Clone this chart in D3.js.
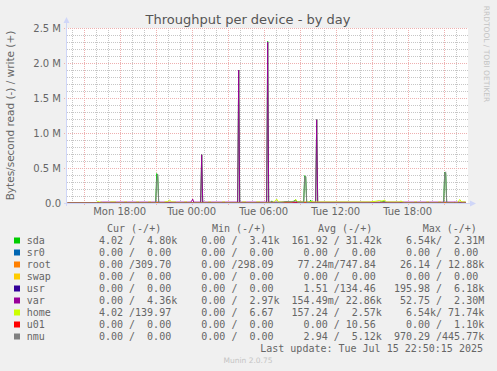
<!DOCTYPE html>
<html><head><meta charset="utf-8">
<script src="https://cdn.jsdelivr.net/npm/d3@7"></script>
<style>
html,body{margin:0;padding:0;background:#F0F0F0;}
svg{display:block;}
text{font-family:"DejaVu Sans",sans-serif;}
.mono{font-family:"DejaVu Sans Mono",monospace;font-size:10px;white-space:pre;}
</style></head>
<body>
<svg id="c" width="497" height="371"></svg>
<script>
// ---------- data ----------
const title = "Throughput per device - by day";
const yLabel = "Bytes/second read (-) / write (+)";
const yTicks = [0, 500000, 1000000, 1500000, 2000000, 2500000];
const yTickLabels = ["0.0", "0.5 M", "1.0 M", "1.5 M", "2.0 M", "2.5 M"];
const xTickTimes = ["2025-07-14 18:00", "2025-07-15 00:00", "2025-07-15 06:00", "2025-07-15 12:00", "2025-07-15 18:00"];
const xTickLabels = ["Mon 18:00", "Tue 00:00", "Tue 06:00", "Tue 12:00", "Tue 18:00"];
const devices = ["sda", "sr0", "root", "swap", "usr", "var", "home", "u01", "nmu"];
const colors = ["#00CC00", "#0066B3", "#FF8000", "#FFCC00", "#330099", "#990099", "#CCFF00", "#FF0000", "#808080"];
const curCol = ["  4.02 /  4.80k","  0.00 /  0.00 ","  0.00 /309.70 ","  0.00 /  0.00 ","  0.00 /  0.00 ","  0.00 /  4.36k","  4.02 /139.97 ","  0.00 /  0.00 ","  0.00 /  0.00 "];
const minCol = ["  0.00 /  3.41k","  0.00 /  0.00 ","  0.00 /298.09 ","  0.00 /  0.00 ","  0.00 /  0.00 ","  0.00 /  2.97k","  0.00 /  6.67 ","  0.00 /  0.00 ","  0.00 /  0.00 "];
const avgCol = ["161.92 / 31.42k","  0.00 /  0.00 "," 77.24m/747.84 ","  0.00 /  0.00 ","  1.51 /134.46 ","154.49m/ 22.86k","157.24 /  2.57k","  0.00 / 10.56 ","  2.94 /  5.12k"];
const maxCol = ["  6.54k/  2.31M","  0.00 /  0.00 "," 26.14 / 12.88k","  0.00 /  0.00 ","195.98 /  6.18k"," 52.75 /  2.30M","  6.54k/ 71.74k","  0.00 /  1.10k","970.29 /445.77k"];
const lastUpdate = "Last update: Tue Jul 15 22:50:15 2025";

// write (+) series, [time, bytes/s]
const sdaW = [
["2025-07-14 13:40",1000],["2025-07-14 16:20",1000],["2025-07-14 16:25",5000],["2025-07-14 21:00",5000],
["2025-07-14 21:05",420000],["2025-07-14 21:10",400000],["2025-07-14 21:15",5000],["2025-07-15 00:45",5000],
["2025-07-15 00:50",690000],["2025-07-15 00:55",5000],["2025-07-15 03:50",5000],["2025-07-15 03:55",1900000],
["2025-07-15 04:00",5000],["2025-07-15 06:15",5000],["2025-07-15 06:20",2310000],["2025-07-15 06:25",5000],
["2025-07-15 06:35",8000],["2025-07-15 06:40",30000],["2025-07-15 06:45",8000],["2025-07-15 07:40",10000],
["2025-07-15 07:50",20000],["2025-07-15 08:10",15000],["2025-07-15 08:30",25000],["2025-07-15 08:40",45000],
["2025-07-15 08:45",15000],["2025-07-15 09:20",10000],["2025-07-15 09:25",390000],["2025-07-15 09:30",370000],
["2025-07-15 09:35",8000],["2025-07-15 09:50",10000],["2025-07-15 09:55",40000],["2025-07-15 10:00",8000],
["2025-07-15 10:20",5000],["2025-07-15 10:25",1190000],["2025-07-15 10:30",5000],["2025-07-15 15:40",5000],
["2025-07-15 15:50",25000],["2025-07-15 16:00",20000],["2025-07-15 16:15",5000],["2025-07-15 21:00",5000],
["2025-07-15 21:05",440000],["2025-07-15 21:10",420000],["2025-07-15 21:15",5000],["2025-07-15 22:50",5000]
];
const rootW = [["2025-07-14 13:40",700],["2025-07-15 22:50",700]];
const usrW = [["2025-07-14 13:40",100],["2025-07-15 22:50",100]];
const varW = [
["2025-07-14 13:40",0],["2025-07-14 16:20",0],["2025-07-14 16:25",12000],["2025-07-14 23:55",12000],
["2025-07-15 00:00",30000],["2025-07-15 00:05",55000],["2025-07-15 00:10",12000],["2025-07-15 00:45",12000],
["2025-07-15 00:50",690000],["2025-07-15 00:55",12000],["2025-07-15 03:50",12000],["2025-07-15 03:55",1900000],
["2025-07-15 04:00",12000],["2025-07-15 06:15",12000],["2025-07-15 06:20",2300000],["2025-07-15 06:25",12000],
["2025-07-15 10:20",12000],["2025-07-15 10:25",1190000],["2025-07-15 10:30",12000],["2025-07-15 22:50",12000]
];
const homeW = [
["2025-07-14 13:40",1000],["2025-07-14 16:00",1000],["2025-07-14 16:10",20000],["2025-07-14 16:20",14000],
["2025-07-14 16:40",4000],["2025-07-14 17:10",4000],["2025-07-14 17:15",14000],["2025-07-14 17:40",14000],
["2025-07-14 17:45",4000],["2025-07-14 18:20",4000],["2025-07-14 18:25",14000],["2025-07-14 18:35",14000],
["2025-07-14 18:40",4000],["2025-07-14 19:20",4000],["2025-07-14 19:25",14000],["2025-07-14 19:35",14000],
["2025-07-14 19:40",4000],["2025-07-14 20:20",4000],["2025-07-14 20:25",14000],["2025-07-14 20:35",14000],
["2025-07-14 20:40",4000],["2025-07-14 21:40",4000],["2025-07-14 21:45",14000],["2025-07-14 22:00",20000],
["2025-07-14 22:10",40000],["2025-07-14 22:20",14000],["2025-07-14 22:40",14000],["2025-07-14 22:45",4000],
["2025-07-14 23:20",4000],["2025-07-14 23:25",14000],["2025-07-14 23:35",14000],["2025-07-14 23:40",4000],
["2025-07-15 01:20",4000],["2025-07-15 01:25",14000],["2025-07-15 01:35",14000],["2025-07-15 01:40",4000],
["2025-07-15 02:30",4000],["2025-07-15 02:35",14000],["2025-07-15 02:45",14000],["2025-07-15 02:50",4000],
["2025-07-15 04:10",4000],["2025-07-15 04:15",14000],["2025-07-15 04:30",14000],["2025-07-15 04:35",4000],
["2025-07-15 05:20",4000],["2025-07-15 05:25",14000],["2025-07-15 05:40",14000],["2025-07-15 05:45",4000],
["2025-07-15 06:50",12000],["2025-07-15 07:05",55000],["2025-07-15 07:15",12000],["2025-07-15 07:40",14000],
["2025-07-15 08:10",14000],["2025-07-15 08:35",20000],["2025-07-15 08:40",50000],["2025-07-15 08:50",14000],
["2025-07-15 09:40",14000],["2025-07-15 10:00",20000],["2025-07-15 10:10",14000],["2025-07-15 14:50",14000],
["2025-07-15 15:20",25000],["2025-07-15 15:40",35000],["2025-07-15 15:50",25000],["2025-07-15 16:05",40000],
["2025-07-15 16:15",14000],["2025-07-15 17:20",14000],["2025-07-15 17:25",30000],["2025-07-15 17:35",14000],
["2025-07-15 17:50",4000],["2025-07-15 18:30",4000],["2025-07-15 18:35",14000],["2025-07-15 18:45",14000],
["2025-07-15 18:50",4000],["2025-07-15 19:30",4000],["2025-07-15 19:35",14000],["2025-07-15 19:45",14000],
["2025-07-15 19:50",4000],["2025-07-15 20:30",4000],["2025-07-15 20:35",14000],["2025-07-15 20:45",14000],
["2025-07-15 20:50",4000],["2025-07-15 22:10",4000],["2025-07-15 22:20",50000],["2025-07-15 22:30",14000],
["2025-07-15 22:50",14000]
];
const u01W = [["2025-07-14 13:40",0],["2025-07-15 21:50",0],["2025-07-15 21:55",9000],["2025-07-15 22:00",0],["2025-07-15 22:50",0]];
const nmuW = [
["2025-07-14 13:40",1500],["2025-07-14 21:00",1500],["2025-07-14 21:05",300000],["2025-07-14 21:10",410000],
["2025-07-14 21:15",1500],["2025-07-15 06:30",2000],["2025-07-15 06:40",15000],["2025-07-15 06:50",4000],
["2025-07-15 07:30",8000],["2025-07-15 07:50",18000],["2025-07-15 08:20",15000],["2025-07-15 08:40",30000],
["2025-07-15 08:50",12000],["2025-07-15 09:20",8000],["2025-07-15 09:25",370000],["2025-07-15 09:30",385000],
["2025-07-15 09:35",8000],["2025-07-15 10:05",2000],["2025-07-15 17:00",2000],["2025-07-15 21:00",2000],
["2025-07-15 21:05",430000],["2025-07-15 21:10",445000],["2025-07-15 21:15",2000],["2025-07-15 22:50",2000]
];
const seriesW = [sdaW, null, rootW, null, usrW, varW, homeW, u01W, nmuW];

// ---------- drawing ----------
const parse = d3.timeParse("%Y-%m-%d %H:%M");
const svg = d3.select("#c");
const L = 67, R = 467, T = 28, B = 203;
const start = new Date(2025, 6, 14, 13, 36, 30);
const end = new Date(2025, 6, 15, 22, 56, 30);
const x = d3.scaleTime().domain([start, end]).range([L, R]);
const y = d3.scaleLinear().domain([0, 2500000]).range([B, T]);
const px = v => Math.round(v) + 0.5;

svg.append("rect").attr("x", L).attr("y", T).attr("width", R - L + 1).attr("height", B - T).attr("fill", "#fff");

// grid
const g = svg.append("g").attr("shape-rendering", "crispEdges");
const minorC = "#c6c6c6", majorC = "#eeb0b0";
d3.timeHour.every(1).range(start, end).forEach(t => {
  if (t.getHours() % 3 === 0) return;
  g.append("line").attr("x1", px(x(t))).attr("x2", px(x(t))).attr("y1", T).attr("y2", B)
    .attr("stroke", minorC).attr("stroke-dasharray", "1,1");
});
d3.range(0, 2500001, 100000).forEach(v => {
  if (v % 500000 === 0) return;
  g.append("line").attr("x1", L).attr("x2", R + 1).attr("y1", px(y(v))).attr("y2", px(y(v)))
    .attr("stroke", minorC).attr("stroke-dasharray", "1,1");
});
d3.timeHour.every(3).range(start, end).forEach(t => {
  g.append("line").attr("x1", px(x(t))).attr("x2", px(x(t))).attr("y1", T).attr("y2", B + 3)
    .attr("stroke", majorC).attr("stroke-dasharray", "1,1");
});
yTicks.forEach(v => {
  g.append("line").attr("x1", L - 3).attr("x2", R + 1).attr("y1", px(y(v))).attr("y2", px(y(v)))
    .attr("stroke", majorC).attr("stroke-dasharray", "1,1");
});

// lines
const line = d3.line().x(d => x(parse(d[0]))).y(d => y(d[1]));
svg.append("clipPath").attr("id", "pc").append("rect")
  .attr("x", L).attr("y", T - 2).attr("width", R - L).attr("height", B - T + 2);
const lg = svg.append("g").attr("clip-path", "url(#pc)");
seriesW.forEach((s, i) => {
  if (!s) return;
  lg.append("path").attr("d", line(s)).attr("fill", "none").attr("stroke", colors[i]).attr("stroke-width", 1);
});

// axes
const axc = "#CFD6F8";
const ag = svg.append("g").attr("shape-rendering", "crispEdges");
ag.append("line").attr("x1", L - 0.5).attr("x2", L - 0.5).attr("y1", B + 3).attr("y2", T - 6).attr("stroke", axc);
ag.append("line").attr("x1", L - 3).attr("x2", R + 4).attr("y1", B + 0.5).attr("y2", B + 0.5).attr("stroke", axc);
svg.append("path").attr("d", `M${L - 3.5},${T - 5} L${L - 0.5},${T - 11} L${L + 2.5},${T - 5} Z`).attr("fill", axc);
svg.append("path").attr("d", `M${R + 3},${B - 2.5} L${R + 9},${B + 0.5} L${R + 3},${B + 3.5} Z`).attr("fill", axc);

const fc = "#666";
yTicks.forEach((v, i) => {
  svg.append("text").attr("x", 61).attr("y", y(v) + 3.5).attr("text-anchor", "end")
    .attr("font-size", 10).attr("fill", fc).text(yTickLabels[i]);
});
xTickTimes.forEach((t, i) => {
  svg.append("text").attr("x", x(parse(t))).attr("y", 215).attr("text-anchor", "middle")
    .attr("font-size", 10).attr("fill", fc).text(xTickLabels[i]);
});

svg.append("text").attr("x", 248).attr("y", 23.5).attr("text-anchor", "middle")
  .attr("font-size", 13).attr("fill", "#555").text(title);
svg.append("text").attr("transform", `translate(14,${(T + B) / 2}) rotate(-90)`).attr("text-anchor", "middle")
  .attr("font-size", 10.5).attr("fill", fc).text(yLabel);
svg.append("text").attr("transform", `translate(484,54) rotate(90)`).attr("text-anchor", "middle")
  .attr("font-size", 7.5).attr("fill", "#c4c4c4").text("RRDTOOL / TOBI OETIKER");

// legend
const lx = 26.7, cw = 6.02;
const headers = [["Cur (-/+)", 107], ["Min (-/+)", 212], ["Avg (-/+)", 318], ["Max (-/+)", 422.7]];
headers.forEach(h => svg.append("text").attr("class", "mono").attr("x", h[1]).attr("y", 231.5).attr("fill", fc).text(h[0]));
devices.forEach((d, i) => {
  const yy = 243.5 + i * 12;
  svg.append("rect").attr("x", 14).attr("y", yy - 6).attr("width", 6).attr("height", 6).attr("fill", colors[i]);
  svg.append("text").attr("class", "mono").attr("x", lx).attr("y", yy).attr("fill", fc).text(d);
  [[curCol, 10], [minCol, 27], [avgCol, 44], [maxCol, 61]].forEach(c => {
    svg.append("text").attr("class", "mono").attr("x", lx + c[1] * cw).attr("y", yy).attr("fill", fc).text(c[0][i]);
  });
});
svg.append("text").attr("class", "mono").attr("x", 483).attr("y", 351.5).attr("text-anchor", "end").attr("fill", fc).text(lastUpdate);
svg.append("text").attr("x", 248).attr("y", 363).attr("text-anchor", "middle").attr("font-size", 7.5).attr("fill", "#c4c4c4").text("Munin 2.0.75");
</script>
</body></html>
